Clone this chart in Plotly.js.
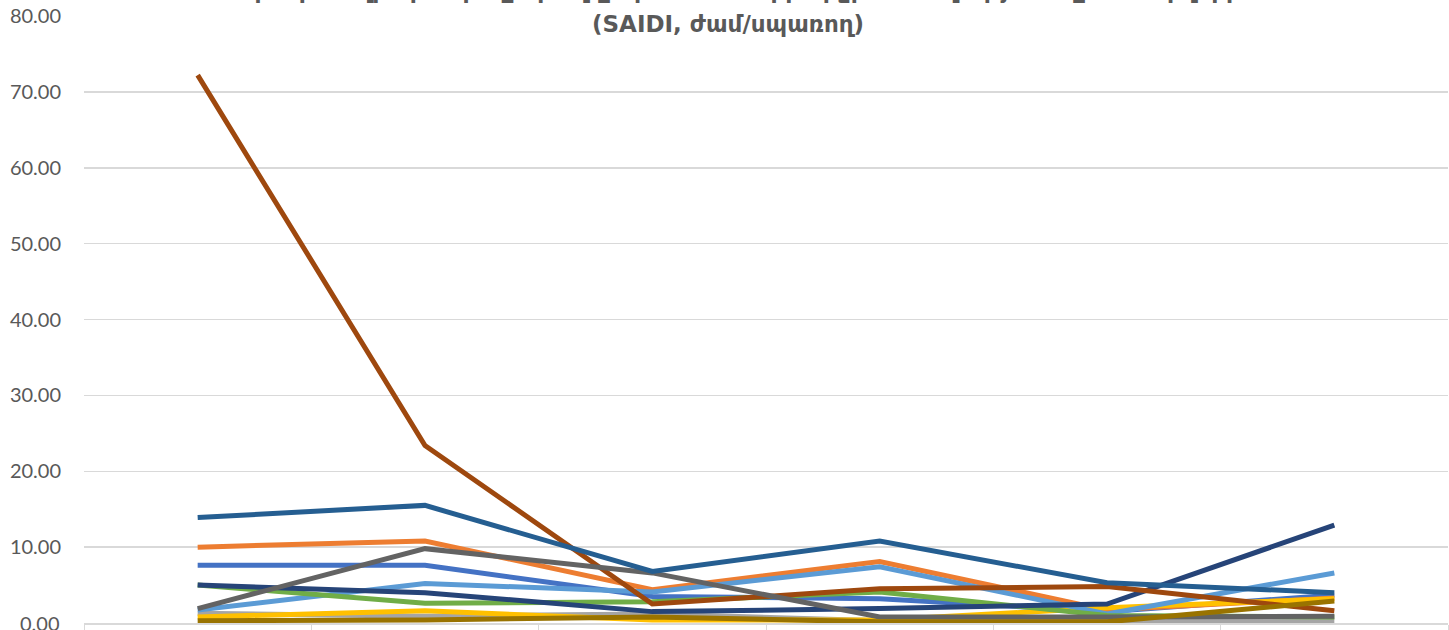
<!DOCTYPE html>
<html><head><meta charset="utf-8">
<script src="https://cdn.plot.ly/plotly-3.0.1.min.js"></script>
<style>html,body{margin:0;padding:0;background:#fff}#chart{width:1449px;height:630px}</style>
</head><body><div id="chart"></div>
<script>
const categories = ["2017", "2018", "2019", "2020", "2021", "2022"];
const seriesNames = ["Երևան", "Արագածոտն", "Արարատ", "Արմավիր", "Գեղարքունիք", "Լոռի", "Կոտայք", "Շիրակ", "Սյունիք", "Վայոց ձոր", "Տավուշ"];
const s1 = [7.6, 7.6, 3.5, 3.2, 1.5, 3.7];
const s2 = [10.0, 10.8, 4.4, 8.1, 1.7, 3.3];
const s3 = [1.3, 0.9, 1.2, 0.3, 0.3, 0.3];
const s4 = [0.8, 1.6, 0.4, 0.4, 2.0, 3.2];
const s5 = [1.7, 5.2, 4.1, 7.4, 1.2, 6.6];
const s6 = [5.0, 2.6, 2.8, 4.1, 1.0, 0.8];
const s7 = [5.0, 4.0, 1.5, 1.9, 2.5, 12.9];
const s8 = [72.2, 23.4, 2.5, 4.5, 4.8, 1.6];
const s9 = [1.9, 9.8, 6.6, 0.8, 0.8, 0.9];
const s10 = [0.3, 0.4, 0.8, 0.15, 0.15, 2.9];
const s11 = [13.9, 15.5, 6.8, 10.8, 5.3, 4.0];
const allSeries = [s1, s2, s3, s4, s5, s6, s7, s8, s9, s10, s11];
const colors = ["#4472C4", "#ED7D31", "#A5A5A5", "#FFC000", "#5B9BD5", "#70AD47", "#264478", "#9E480E", "#636363", "#997300", "#255E91"];
const titleLines = ["Մեկ սպառողին բաժին ընկնող ընդհատումների միջին տևողությունն ըստ մարզերի", "(SAIDI, ժամ/սպառող)"];
const yTickVals = [0, 10, 20, 30, 40, 50, 60, 70, 80];

const traces = allSeries.map((vals, i) => ({
  type: "scatter", mode: "lines", x: categories, y: vals, name: seriesNames[i],
  line: {color: colors[i], width: 5}, showlegend: false
}));

const tickFont = {size: 20, color: "#595959", family: "Lato, 'Open Sans', sans-serif"};
const titleFont = {size: 23, color: "#595959", family: "'DejaVu Sans', sans-serif"};

const layout = {
  width: 1449, height: 630,
  margin: {l: 84, r: 1, t: 16, b: 7, pad: 0},
  paper_bgcolor: "#fff", plot_bgcolor: "#fff",
  font: {family: "Lato, 'Open Sans', sans-serif", color: "#595959"},
  xaxis: {
    type: "category", range: [-0.5, 5.5], showgrid: false, zeroline: false,
    showline: true, linecolor: "#D9D9D9", linewidth: 1.5,
    ticks: "outside", tickson: "boundaries", ticklen: 8, tickcolor: "#D9D9D9",
    showticklabels: false, automargin: false, fixedrange: true
  },
  yaxis: {
    range: [0, 80], tickmode: "array", tickvals: yTickVals.slice(1),
    ticktext: yTickVals.slice(1).map(v => v.toFixed(2)),
    showgrid: true, gridcolor: "#D9D9D9", gridwidth: 1.5, zeroline: false,
    showline: false, ticks: "", ticklabelstandoff: 22,
    tickfont: tickFont, automargin: false, fixedrange: true
  },
  annotations: [{
    xref: "paper", yref: "paper", x: 0.472, y: 1, yanchor: "bottom", xanchor: "center",
    yshift: 11, showarrow: false, align: "center",
    text: "<b>" + titleLines[0] + "</b>", font: titleFont
  }, {
    xref: "paper", yref: "paper", x: 0.472, y: 1, yanchor: "bottom", xanchor: "center",
    yshift: -23, showarrow: false, align: "center",
    text: "<b>" + titleLines[1] + "</b>", font: titleFont
  }, {
    xref: "paper", yref: "y", x: 0, y: yTickVals[0], xanchor: "right", yanchor: "middle",
    xshift: -22, showarrow: false, text: yTickVals[0].toFixed(2), font: tickFont
  }]
};
Plotly.newPlot("chart", traces, layout, {displayModeBar: false, staticPlot: true});
</script></body></html>
